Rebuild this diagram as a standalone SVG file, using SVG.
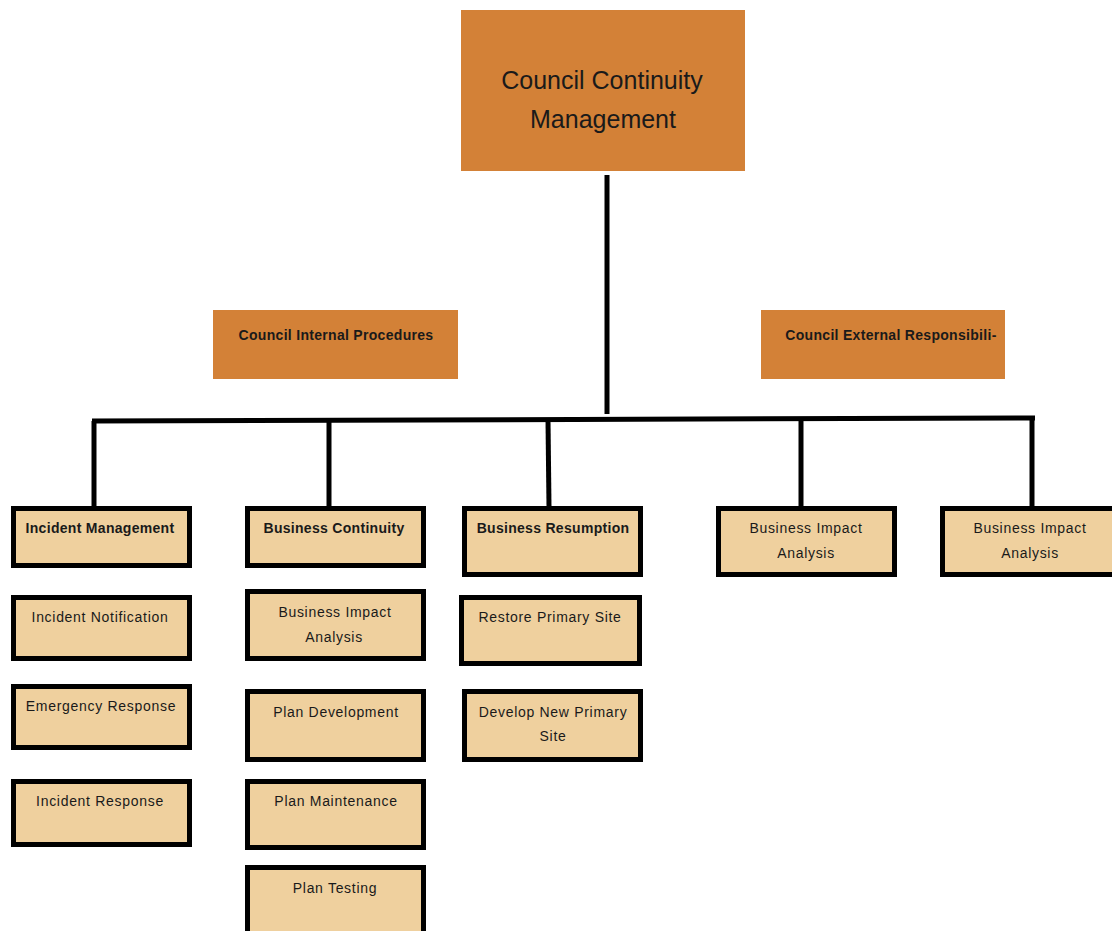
<svg xmlns="http://www.w3.org/2000/svg" width="1112" height="931" viewBox="0 0 1112 931">
  <style>
    .head { fill: #D38137; }
    .box { fill: #EFD09E; stroke: #000; stroke-width: 5; }
    .t { font-family: "Liberation Sans", Arial, sans-serif; fill: #1a1a1a; text-anchor: middle; }
    .big { font-size: 25px; }
    .sm { font-size: 14px; letter-spacing: 0.7px; }
    .b { font-weight: bold; letter-spacing: 0.3px; }
    .wire { fill: none; stroke: #000; stroke-width: 5; stroke-linecap: butt; stroke-linejoin: miter; }
  </style>
  <rect width="1112" height="931" fill="#fff"/>

  <!-- connectors -->
  <g id="connectors">
    <path class="wire" d="M607,175 L607,414"/>
    <path class="wire" d="M92,421 L1035,418"/>
    <path class="wire" d="M94,421 L94,507"/>
    <path class="wire" d="M329,420 L329,507"/>
    <path class="wire" d="M548,420 L549,507"/>
    <path class="wire" d="M801,419 L801,507"/>
    <path class="wire" d="M1032,418 L1032,507"/>
  </g>

  <!-- root -->
  <g id="root">
    <rect class="head" x="461" y="10" width="284" height="161"/>
    <text class="t big" x="602" y="89">Council Continuity</text>
    <text class="t big" x="603" y="128">Management</text>
  </g>

  <g id="internal">
    <rect class="head" x="213" y="310" width="245" height="69"/>
    <text class="t sm b" x="336" y="340">Council Internal Procedures</text>
  </g>
  <g id="external">
    <rect class="head" x="761" y="310" width="244" height="69"/>
    <text class="t sm b" x="891" y="340">Council External Responsibili-</text>
  </g>

  <!-- first row -->
  <g id="incident-management">
    <rect class="box" x="13.5" y="508.5" width="176" height="57"/>
    <text class="t sm b" x="100" y="533">Incident Management</text>
  </g>
  <g id="business-continuity">
    <rect class="box" x="247.5" y="508.5" width="176" height="57"/>
    <text class="t sm b" x="334" y="533">Business Continuity</text>
  </g>
  <g id="business-resumption">
    <rect class="box" x="464.5" y="508.5" width="176" height="66"/>
    <text class="t sm b" x="553" y="533">Business Resumption</text>
  </g>
  <g id="bia-1">
    <rect class="box" x="718.5" y="508.5" width="176" height="66"/>
    <text class="t sm" x="806" y="533">Business Impact</text>
    <text class="t sm" x="806" y="558">Analysis</text>
  </g>
  <g id="bia-2">
    <rect class="box" x="942.5" y="508.5" width="176" height="66"/>
    <text class="t sm" x="1030" y="533">Business Impact</text>
    <text class="t sm" x="1030" y="558">Analysis</text>
  </g>

  <!-- incident management children -->
  <g id="incident-notification">
    <rect class="box" x="13.5" y="597.5" width="176" height="61"/>
    <text class="t sm" x="100" y="622">Incident Notification</text>
  </g>
  <g id="emergency-response">
    <rect class="box" x="13.5" y="686.5" width="176" height="61"/>
    <text class="t sm" x="101" y="711">Emergency Response</text>
  </g>
  <g id="incident-response">
    <rect class="box" x="13.5" y="781.5" width="176" height="63"/>
    <text class="t sm" x="100" y="806">Incident Response</text>
  </g>

  <!-- business continuity children -->
  <g id="bc-bia">
    <rect class="box" x="247.5" y="591.5" width="176" height="67"/>
    <text class="t sm" x="335" y="617">Business Impact</text>
    <text class="t sm" x="334" y="642">Analysis</text>
  </g>
  <g id="plan-development">
    <rect class="box" x="247.5" y="691.5" width="176" height="68"/>
    <text class="t sm" x="336" y="717">Plan Development</text>
  </g>
  <g id="plan-maintenance">
    <rect class="box" x="247.5" y="781.5" width="176" height="66"/>
    <text class="t sm" x="336" y="806">Plan Maintenance</text>
  </g>
  <g id="plan-testing">
    <rect class="box" x="247.5" y="867.5" width="176" height="80"/>
    <text class="t sm" x="335" y="893">Plan Testing</text>
  </g>

  <!-- business resumption children -->
  <g id="restore-primary-site">
    <rect class="box" x="461.5" y="597.5" width="178" height="66"/>
    <text class="t sm" x="550" y="622">Restore Primary Site</text>
  </g>
  <g id="develop-new-primary-site">
    <rect class="box" x="464.5" y="691.5" width="176" height="68"/>
    <text class="t sm" x="553" y="717">Develop New Primary</text>
    <text class="t sm" x="553" y="741">Site</text>
  </g>
</svg>
